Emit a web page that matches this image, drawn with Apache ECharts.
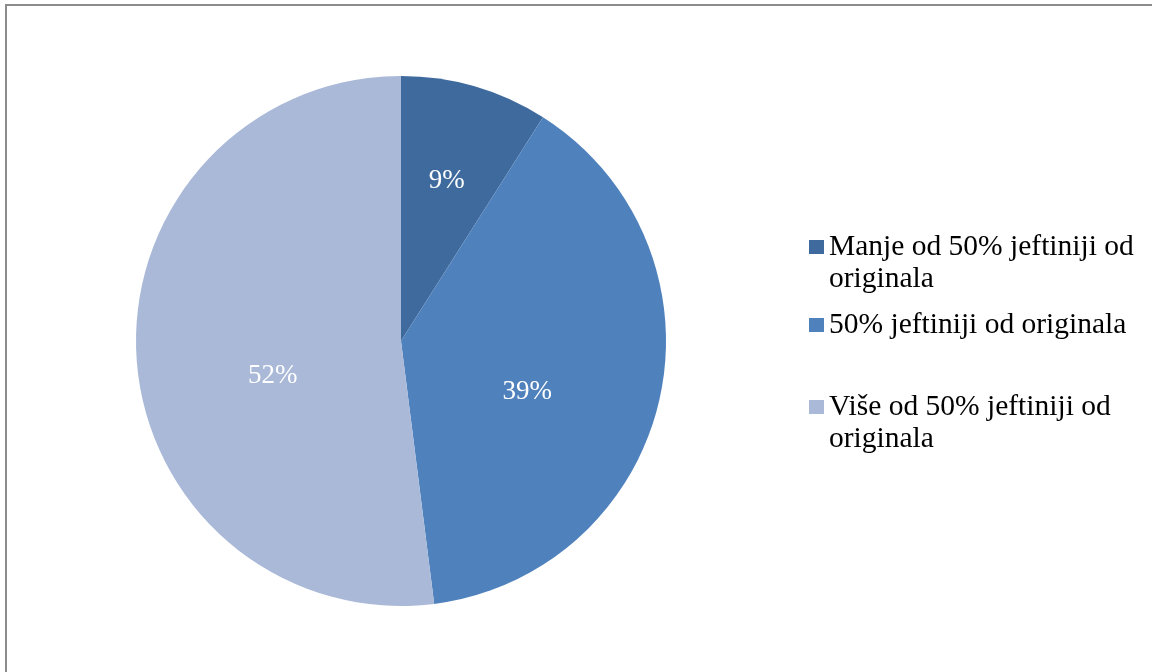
<!DOCTYPE html>
<html>
<head>
<meta charset="utf-8">
<style>
html,body{margin:0;padding:0;background:#fff;}
#chart{width:1152px;height:672px;}
</style>
<script src="https://cdn.jsdelivr.net/npm/echarts@6/dist/echarts.min.js"></script>
</head>
<body>
<div id="chart"></div>
<script>
// Data
const categories = [
  'Manje od 50% jeftiniji od\noriginala',
  '50% jeftiniji od originala',
  'Više od 50% jeftiniji od\noriginala'
];
const values = [9, 39, 52];
const colors = ['#3F6A9E', '#4F81BD', '#AAB9D8'];

// label fine-tuning (Excel best-fit style placement)
const labelOffsets = [[8, -30], [-6, 21], [7, 26]];
const legendTops = [199, 309, 359];

const chart = echarts.init(document.getElementById('chart'), null, {renderer: 'canvas'});

const LH = 32;
const legends = categories.map((name, i) => ({
  orient: 'vertical',
  left: 809,
  top: legendTops[i],
  padding: 0,
  itemWidth: 15,
  itemHeight: 14,
  icon: 'rect',
  selectedMode: false,
  data: [name],
  // keep the marker aligned with the first text line
  formatter: n => (n.indexOf('\n') >= 0 ? '\n' + n : n),
  textStyle: {
    fontFamily: 'Liberation Serif',
    fontSize: 29.5,
    lineHeight: LH,
    color: '#000'
  }
}));

chart.setOption({
  animation: false,
  color: colors,
  graphic: [{
    type: 'rect',
    shape: {x: 6, y: 5, width: 1170, height: 690},
    style: {fill: 'none', stroke: '#8C8C8C', lineWidth: 2},
    silent: true,
    z: 100
  }],
  legend: legends,
  series: [{
    type: 'pie',
    center: [401, 341],
    radius: [0, 265],
    startAngle: 90,
    clockwise: true,
    avoidLabelOverlap: false,
    itemStyle: {borderWidth: 0},
    label: {
      show: true,
      position: 'inside',
      formatter: '{d}%',
      fontFamily: 'Liberation Serif',
      fontSize: 27,
      color: '#fff'
    },
    labelLine: {show: false},
    emphasis: {disabled: true},
    data: categories.map((name, i) => ({
      name: name,
      value: values[i],
      label: {offset: labelOffsets[i]}
    }))
  }]
});
</script>
</body>
</html>
